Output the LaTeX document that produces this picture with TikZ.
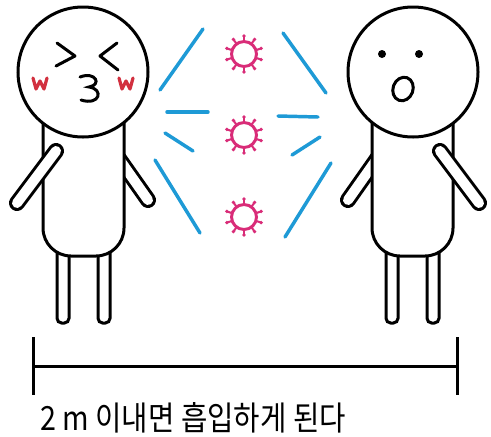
\documentclass[tikz,border=0pt]{standalone}
\usepackage{fontspec}
\newfontfamily\kr{Noto Sans CJK KR}
\definecolor{spray}{HTML}{1E9AD6}
\definecolor{germ}{HTML}{D92C78}
\definecolor{blush}{HTML}{D2303F}
\tikzset{ink/.style={line width=2.25pt},
limb/.style={line width=2.25pt,double=white,double distance=7.5pt,line cap=round},
drop/.style={spray,line width=2.6pt,line cap=round},
cheek/.style={blush,line width=2.4pt,line join=round,line cap=round}}

% a person facing right, pixel units
\newcommand\stickman{%
\draw[limb](110,146)--(148,200);
\draw[ink,fill=white,rounded corners=3.5pt](57,236)rectangle(69,323);
\draw[ink,fill=white,rounded corners=3.5pt](98,236)rectangle(110,323);
\draw[ink,fill=white,rounded corners=21pt](43,95)rectangle(124,256);
\draw[ink,fill=white](83,72)circle(65);
\draw[limb](56,151)--(17,203);}

\begin{document}
\begin{tikzpicture}[x=.75pt,y=-.75pt]
\fill[white](0,0)rectangle(491,436);\useasboundingbox(0,0)rectangle(491,436);
\stickman
\begin{scope}[shift={(496,0)},xscale=-1]\stickman\end{scope}
% kissing face
\draw[ink,line cap=round,line join=round](57,43)--(75,56)--(56,66);
\draw[ink,line cap=round,line join=round](117,43)--(100,56)--(118,70);
\draw[ink,line cap=round](80,77)..controls(96,71)and(102,85)..(89,87)..controls(104,89)and(100,106)..(81,100);
\draw[cheek](33,78)--(36,89)--(40,81)--(44,89)--(47,78);
\draw[cheek](119,78)--(122,89)--(126,81)--(130,89)--(133,78);
% surprised face
\fill(382,54)circle(4);\fill(419,54)circle(4);
\draw[ink,rotate around={-20:(403,89)}](403,89)ellipse(10 and 12);
% droplets
\foreach \xa/\ya/\xb/\yb in {160/90/203/29,167/112/208/112,165/133/193/151,155/160/200/233,
283/33/326/93,278/116/318/117,292/155/320/137,285/237/331/163}
\draw[drop](\xa,\ya)--(\xb,\yb);
% viruses
\foreach \vy in {54,135,217}{
\draw[germ,line width=2.2pt](244,\vy)circle(12.5);
\foreach \a in {90,126,...,414}{
\draw[germ,line width=1.5pt](244,\vy)++(\a:12.5)--++(\a:5);
\fill[germ](244,\vy)++(\a:18)circle(1.9);}}
% distance bar
\coordinate(l)at(33,366);\coordinate(r)at(457,366);
\draw[ink](l)--(r);
\draw[ink](33,337)--(33,395);\draw[ink](457,337)--(457,395);
\node[anchor=base west,inner sep=0pt](caption)at(40,430){\kr\fontsize{25pt}{25pt}\selectfont\scalebox{0.86}[1]{2 m 이내면 흡입하게 된다}};
\end{tikzpicture}
\end{document}
